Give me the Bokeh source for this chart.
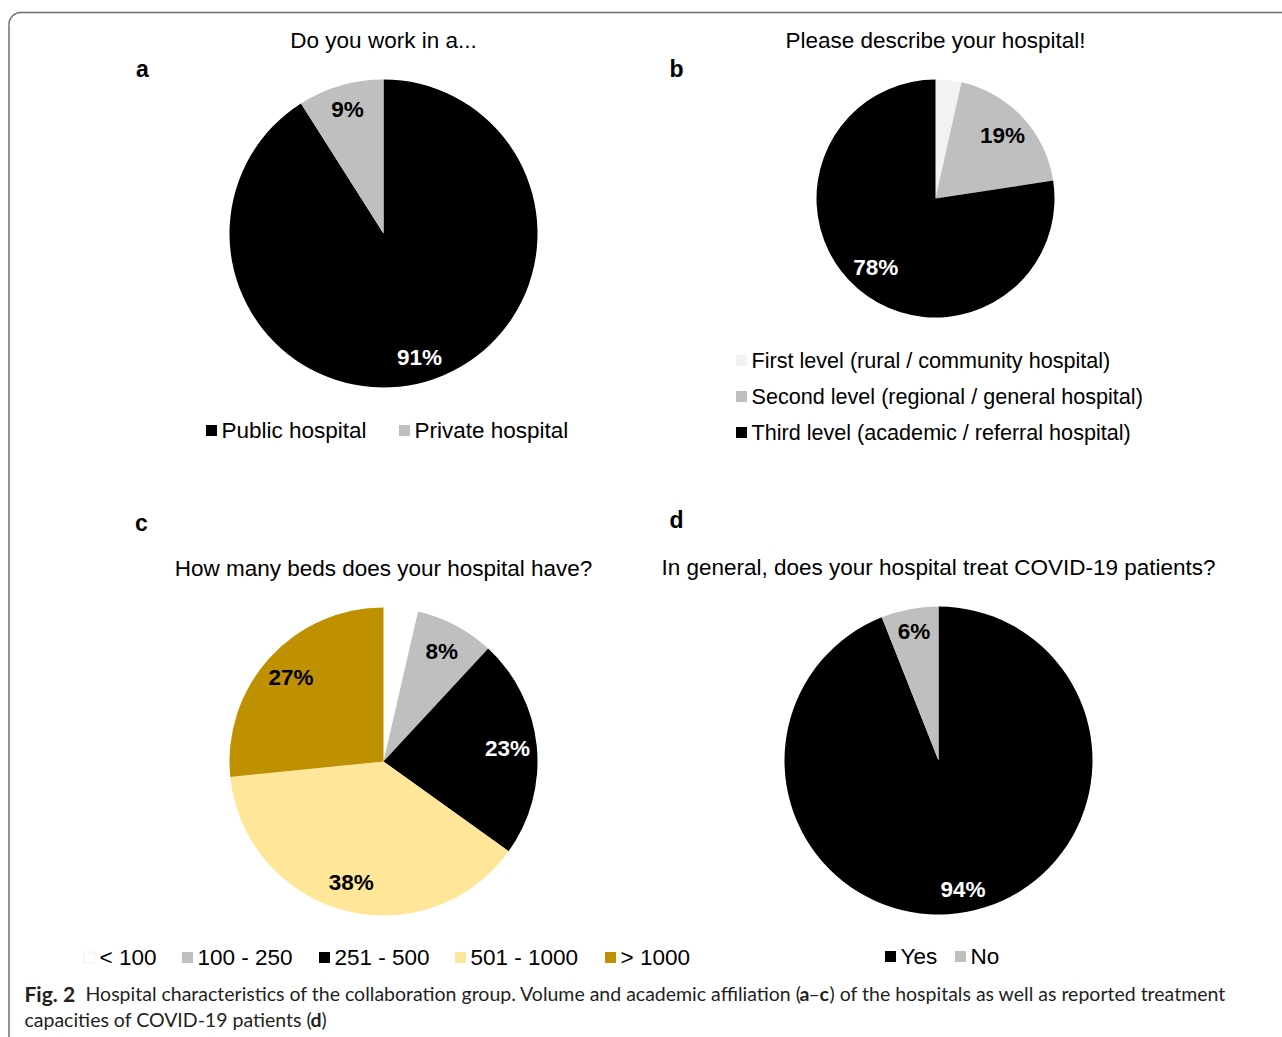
import math
from bokeh.plotting import figure
from bokeh.models import Range1d
from bokeh.core.properties import value
from bokeh.embed import file_html
from bokeh.resources import INLINE

# ---------------- data ----------------
a_title = "Do you work in a..."
a_labels = ["Public hospital", "Private hospital"]
a_values = [91, 9]
a_pct = ["91%", "9%"]

b_title = "Please describe your hospital!"
b_labels = ["First level (rural / community hospital)",
            "Second level (regional / general hospital)",
            "Third level (academic / referral hospital)"]
b_values = [3.5, 19.1, 77.4]
b_pct = ["", "19%", "78%"]

c_title = "How many beds does your hospital have?"
c_labels = ["< 100", "100 - 250", "251 - 500", "501 - 1000", "> 1000"]
c_values = [3.6, 8.3, 23.0, 38.5, 26.6]
c_pct = ["", "8%", "23%", "38%", "27%"]

d_title = "In general, does your hospital treat COVID-19 patients?"
d_labels = ["Yes", "No"]
d_values = [94, 6]
d_pct = ["94%", "6%"]

# ---------------- styles ----------------
BLACK = "#000000"
GRAY = "#bfbfbf"
LIGHT = "#f2f2f2"
WHITE = "#ffffff"
YELLOW = "#ffe699"
GOLD = "#bf9000"
a_colors = [BLACK, GRAY]
b_colors = [LIGHT, GRAY, BLACK]
c_colors = [WHITE, GRAY, BLACK, YELLOW, GOLD]
d_colors = [BLACK, GRAY]

FONT = value("Liberation Sans")
CAP_FONT = value("Lato")
TXT = "22.5px"

W, H = 1282, 1037
PAGE_H = 1037


def Y(ry):
    return PAGE_H - ry


p = figure(width=W, height=H, x_range=Range1d(0, W), y_range=Range1d(Y(H), Y(0)),
           output_backend="svg", toolbar_location=None, min_border=0)
p.axis.visible = False
p.grid.visible = False
p.outline_line_color = None
p.background_fill_color = "white"


def text_color(c):
    return "white" if c == BLACK else "black"


def pie(cx, cy, r, vals, colors, pcts, k):
    total = float(sum(vals))
    cum = 0.0
    for v, col, lab in zip(vals, colors, pcts):
        f0 = cum / total
        cum += v
        f1 = cum / total
        p.wedge(x=cx, y=Y(cy), radius=r,
                start_angle=math.pi / 2 - 2 * math.pi * f1,
                end_angle=math.pi / 2 - 2 * math.pi * f0,
                direction="anticlock", fill_color=col, line_color=None)
        if lab:
            th = math.pi / 2 - 2 * math.pi * (f0 + f1) / 2
            p.text(x=[cx + k * r * math.cos(th)], y=[Y(cy) + k * r * math.sin(th)], text=[lab],
                   text_font=FONT, text_font_size=TXT, text_font_style="bold",
                   text_color=text_color(col), text_align="center", text_baseline="middle")


def txt(x, y, s, size=TXT, bold=False, align="left", font=FONT, color="black"):
    p.text(x=[x], y=[Y(y)], text=[s], text_font=font, text_font_size=size,
           text_font_style="bold" if bold else "normal", text_align=align,
           text_baseline="middle", text_color=color)


def legend_item(x, y, label, color, border=None, size=TXT):
    p.rect(x=[x], y=[Y(y)], width=11, height=11, fill_color=color,
           line_color=border if border else None)
    txt(x + 10, y, label, size=size)


# frame border (rounded corner top-left)
BC = "#6e6e6e"
p.segment(x0=[20], y0=[Y(12)], x1=[W], y1=[Y(12)], line_color=BC, line_width=1.5)
p.segment(x0=[8.5], y0=[Y(24)], x1=[8.5], y1=[Y(H)], line_color=BC, line_width=1.5)
p.arc(x=[20.5], y=[Y(24)], radius=12, start_angle=math.pi / 2, end_angle=math.pi,
      line_color=BC, line_width=1.5)

# ---- panel a ----
txt(383, 40, a_title, align="center")
txt(142, 68, "a", size="23px", bold=True, align="center")
pie(383, 233, 154, a_values, a_colors, a_pct, 0.84)
for x, lab, col in zip([211, 404], a_labels, a_colors):
    legend_item(x, 430, lab, col)

# ---- panel b ----
txt(935, 40, b_title, align="center")
txt(676, 68, "b", size="23px", bold=True, align="center")
pie(935, 198, 119, b_values, b_colors, b_pct, 0.77)
for y, lab, col in zip([360, 396, 432], b_labels, b_colors):
    legend_item(741, y, lab, col, size="21.6px")

# ---- panel c ----
txt(383, 568, c_title, align="center")
txt(141, 522, "c", size="23px", bold=True, align="center")
pie(383, 761, 154, c_values, c_colors, c_pct, 0.81)
for x, lab, col in zip([89, 187, 324, 460, 610], c_labels, c_colors):
    legend_item(x, 957, lab, col, border="#f0f0f0" if col == WHITE else None)

# ---- panel d ----
txt(938, 567, d_title, align="center")
txt(676, 519, "d", size="23px", bold=True, align="center")
pie(938, 760, 154, d_values, d_colors, d_pct, 0.85)
for x, lab, col in zip([890, 960], d_labels, d_colors):
    legend_item(x, 956, lab, col)

# ---- caption ----
CAPC = "#231f20"
CS = "19.5px"
txt(24, 993, "Fig. 2", size="21px", bold=True, font=CAP_FONT, color=CAPC)
txt(85, 993, "Hospital characteristics of the collaboration group. Volume and academic affiliation (",
    size=CS, font=CAP_FONT, color=CAPC)
txt(799, 993, "a", size=CS, bold=True, font=CAP_FONT, color=CAPC)
txt(808, 993, "–", size=CS, font=CAP_FONT, color=CAPC)
txt(819, 993, "c", size=CS, bold=True, font=CAP_FONT, color=CAPC)
txt(829, 993, ") of the hospitals as well as reported treatment", size=CS, font=CAP_FONT, color=CAPC)
txt(24, 1019, "capacities of COVID-19 patients (", size=CS, font=CAP_FONT, color=CAPC)
txt(310, 1019, "d", size=CS, bold=True, font=CAP_FONT, color=CAPC)
txt(321, 1019, ")", size=CS, font=CAP_FONT, color=CAPC)

open("out.html", "w").write(file_html(p, INLINE))
